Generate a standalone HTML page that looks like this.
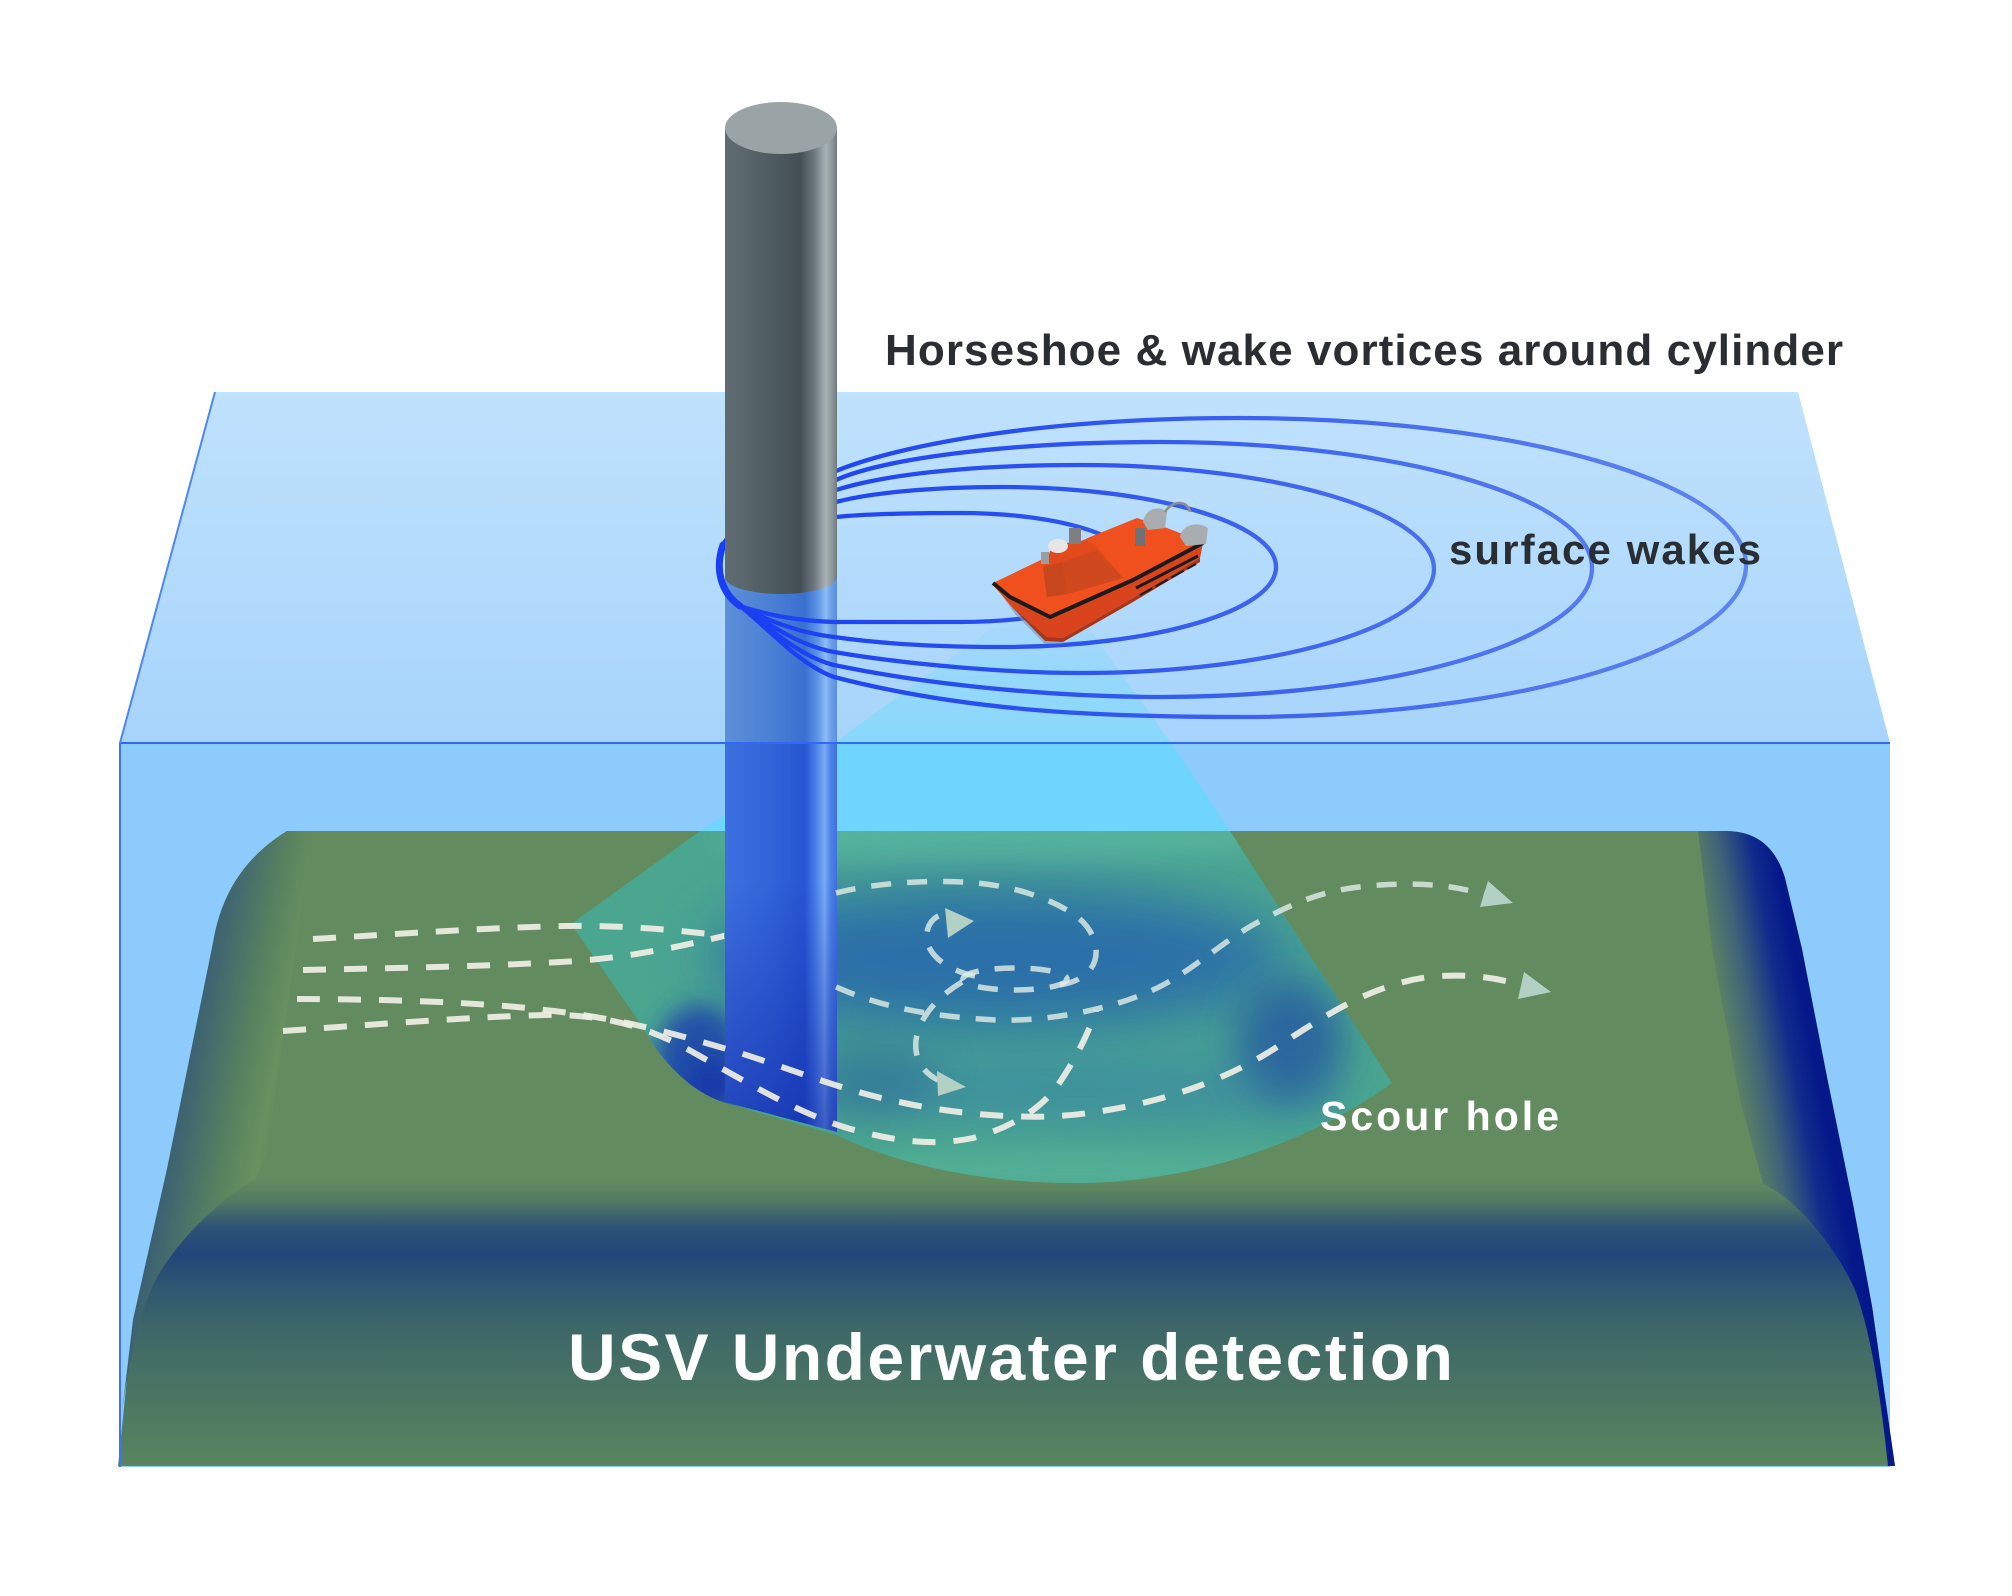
<!DOCTYPE html>
<html>
<head>
<meta charset="utf-8">
<style>
html,body{margin:0;padding:0;background:#ffffff;}
svg{display:block;}
text{font-family:"Liberation Sans",Arial,sans-serif;font-weight:bold;}
</style>
</head>
<body>
<svg width="2012" height="1596" viewBox="0 0 2012 1596" xmlns="http://www.w3.org/2000/svg">
<defs>
  <linearGradient id="gTop" gradientUnits="userSpaceOnUse" x1="0" y1="392" x2="0" y2="743">
    <stop offset="0" stop-color="#bfe2fd"/>
    <stop offset="1" stop-color="#a7d4fb"/>
  </linearGradient>
  <linearGradient id="gBeamTop" gradientUnits="userSpaceOnUse" x1="0" y1="600" x2="0" y2="743">
    <stop offset="0" stop-color="#8ad8fb" stop-opacity="0"/>
    <stop offset="0.5" stop-color="#8ad8fb" stop-opacity="0.6"/>
    <stop offset="1" stop-color="#88d8fb" stop-opacity="1"/>
  </linearGradient>
  <linearGradient id="gSea" gradientUnits="userSpaceOnUse" x1="0" y1="831" x2="0" y2="1466">
    <stop offset="0" stop-color="#628b5f"/>
    <stop offset="0.55" stop-color="#628b5f"/>
    <stop offset="0.58" stop-color="#547c63"/>
    <stop offset="0.625" stop-color="#2c5275"/>
    <stop offset="0.667" stop-color="#22467a"/>
    <stop offset="0.72" stop-color="#2d5870"/>
    <stop offset="0.786" stop-color="#3e6868"/>
    <stop offset="0.896" stop-color="#4b7662"/>
    <stop offset="1" stop-color="#5a855f"/>
  </linearGradient>
  <linearGradient id="gLeftSlope" gradientUnits="userSpaceOnUse" x1="200" y1="1000" x2="300" y2="1020">
    <stop offset="0" stop-color="#3c6173"/>
    <stop offset="0.55" stop-color="#58825f"/>
    <stop offset="0.85" stop-color="#67915f"/>
    <stop offset="1" stop-color="#628b5f"/>
  </linearGradient>
  <linearGradient id="gRightSlope" gradientUnits="userSpaceOnUse" x1="1712" y1="1000" x2="1800" y2="983">
    <stop offset="0" stop-color="#628b5f"/>
    <stop offset="0.4" stop-color="#3f6378"/>
    <stop offset="0.75" stop-color="#102c8c"/>
    <stop offset="1" stop-color="#05188a"/>
  </linearGradient>
  <linearGradient id="gColA" gradientUnits="userSpaceOnUse" x1="725" y1="0" x2="837" y2="0">
    <stop offset="0" stop-color="#5d90d8"/>
    <stop offset="0.4" stop-color="#4b80d5"/>
    <stop offset="0.71" stop-color="#3a70d0"/>
    <stop offset="0.83" stop-color="#5d95e6"/>
    <stop offset="0.9" stop-color="#8ebcf4"/>
    <stop offset="0.95" stop-color="#6a9ee6"/>
    <stop offset="1" stop-color="#5a8ee0"/>
  </linearGradient>
  <linearGradient id="gColB" gradientUnits="userSpaceOnUse" x1="725" y1="0" x2="837" y2="0">
    <stop offset="0" stop-color="#3d70df"/>
    <stop offset="0.4" stop-color="#3264da"/>
    <stop offset="0.71" stop-color="#2755d2"/>
    <stop offset="0.81" stop-color="#4a80ea"/>
    <stop offset="0.89" stop-color="#7aabf6"/>
    <stop offset="0.94" stop-color="#4f84e8"/>
    <stop offset="1" stop-color="#3e70e0"/>
  </linearGradient>
  <linearGradient id="gColShade" gradientUnits="userSpaceOnUse" x1="0" y1="880" x2="0" y2="1132">
    <stop offset="0" stop-color="#0a1ea0" stop-opacity="0"/>
    <stop offset="1" stop-color="#0a1e9a" stop-opacity="0.55"/>
  </linearGradient>
  <linearGradient id="gCyl" gradientUnits="userSpaceOnUse" x1="725" y1="0" x2="837" y2="0">
    <stop offset="0" stop-color="#5f6c72"/>
    <stop offset="0.18" stop-color="#59666c"/>
    <stop offset="0.5" stop-color="#4a575d"/>
    <stop offset="0.67" stop-color="#424e54"/>
    <stop offset="0.8" stop-color="#6d797e"/>
    <stop offset="0.9" stop-color="#a8b3b6"/>
    <stop offset="0.96" stop-color="#8b9599"/>
    <stop offset="1" stop-color="#6f7a7e"/>
  </linearGradient>
  <linearGradient id="gLoop" gradientUnits="userSpaceOnUse" x1="720" y1="0" x2="1750" y2="0">
    <stop offset="0" stop-color="#1a3ff2"/>
    <stop offset="0.3" stop-color="#2a50f0"/>
    <stop offset="1" stop-color="#4a70ea" stop-opacity="0.8"/>
  </linearGradient>
  <linearGradient id="gLoopFade" gradientUnits="userSpaceOnUse" x1="715" y1="0" x2="860" y2="0">
    <stop offset="0" stop-color="#1a3ff2" stop-opacity="1"/>
    <stop offset="0.5" stop-color="#1a3ff2" stop-opacity="0.7"/>
    <stop offset="1" stop-color="#1a3ff2" stop-opacity="0"/>
  </linearGradient>
  <filter id="b30" x="-60%" y="-60%" width="220%" height="220%"><feGaussianBlur stdDeviation="30"/></filter>
  <filter id="b20" x="-60%" y="-60%" width="220%" height="220%"><feGaussianBlur stdDeviation="20"/></filter>
  <filter id="b12" x="-60%" y="-60%" width="220%" height="220%"><feGaussianBlur stdDeviation="12"/></filter>
  <clipPath id="fanClip">
    <path d="M700,831 L1230,831 L1392,1083 C1300,1150 1180,1183 1077,1183 C980,1183 900,1165 836,1135 L726,1103 C690,1092 660,1060 640,1023 L571,924 Z"/>
  </clipPath>
</defs>

<rect x="0" y="0" width="2012" height="1596" fill="#ffffff"/>

<!-- water top surface -->
<path d="M215,392 L1798,392 L1890,743 L120,743 Z" fill="url(#gTop)"/>
<path d="M1056,582 L1171,743 L834,743 Z" fill="url(#gBeamTop)"/>

<!-- water front face -->
<rect x="120" y="743" width="1770" height="724" fill="#8dcbfc"/>
<path d="M834,743 L1171,743 L1230,831 L700,831 Z" fill="#6fd5fc"/>

<!-- seabed -->
<path d="M287,831 L1725,831 C1755,831 1775,845 1785,878 L1802,949 L1827,1077 L1853,1204 L1872,1306 L1895,1466 L118,1466 L133,1320 L167,1169 L213,943 C220,900 240,860 287,831 Z" fill="url(#gSea)"/>
<path d="M287,831 L312,831 L302,900 L268,1150 L257,1177 C217,1203 183,1234 157,1277 C140,1310 128,1360 120,1429 L133,1320 L167,1169 L213,943 C220,900 240,860 287,831 Z" fill="url(#gLeftSlope)"/>
<path d="M1698,831 L1725,831 C1755,831 1775,845 1785,878 L1802,949 L1827,1077 L1853,1204 L1872,1306 L1895,1466 L1888,1466 C1880,1390 1870,1330 1855,1290 C1840,1255 1800,1200 1763,1184 L1740,1100 L1712,949 Z" fill="url(#gRightSlope)"/>

<!-- scour fan -->
<g clip-path="url(#fanClip)">
  <rect x="560" y="820" width="850" height="380" fill="#4ba690"/>
  <ellipse cx="990" cy="838" rx="270" ry="28" fill="#57b49b" filter="url(#b12)"/>
  <ellipse cx="1000" cy="958" rx="290" ry="72" fill="#2a70a8" filter="url(#b30)"/>
  <ellipse cx="1090" cy="1090" rx="260" ry="35" fill="#3a8aa2" filter="url(#b20)" opacity="0.7"/>
  <ellipse cx="1290" cy="1040" rx="55" ry="62" fill="#2b689e" filter="url(#b20)"/>
  <ellipse cx="870" cy="1080" rx="70" ry="35" fill="#2f6d9a" filter="url(#b20)" opacity="0.6"/>
  <ellipse cx="700" cy="1060" rx="45" ry="55" fill="#2050a8" filter="url(#b12)"/>
  <ellipse cx="712" cy="1085" rx="25" ry="25" fill="#1838a8" filter="url(#b12)"/>
  <ellipse cx="1077" cy="1170" rx="300" ry="16" fill="#52b096" filter="url(#b12)"/>
</g>

<!-- underwater column -->
<path d="M725,577 H837 V743 H725 Z" fill="url(#gColA)"/>
<path d="M725,743 H837 V1132 L725,1102 Z" fill="url(#gColB)"/>
<path d="M725,880 H837 V1132 L725,1102 Z" fill="url(#gColShade)"/>

<!-- dashed flow lines -->
<g fill="none" stroke="#f0efe6" stroke-width="6" stroke-dasharray="23 18" stroke-opacity="0.92">
  <path d="M313,939 C400,934 480,928 565,926 C620,925 680,930 724,936"/>
  <path d="M303,970 C400,968 500,966 577,961 C640,956 690,944 724,936"/>
  <path d="M297,999 C380,999 480,1002 545,1010 C620,1018 680,1035 740,1053 C800,1072 840,1090 904,1103 C950,1113 1030,1122 1088,1113 C1150,1105 1220,1085 1280,1045 C1330,1012 1380,980 1440,976 C1480,974 1505,980 1528,987"/>
  <path d="M283,1031 C380,1024 470,1017 545,1015 C600,1014 640,1025 680,1045 C740,1078 790,1110 847,1128 C890,1140 930,1147 973,1138 C1010,1128 1040,1110 1058,1085 C1075,1060 1088,1035 1096,1010"/>
</g>
<g fill="none" stroke="#e2ede6" stroke-width="5.5" stroke-dasharray="20 16" stroke-opacity="0.8">
  <path d="M836,987 C860,997 900,1015 996,1020 C1050,1022 1120,1008 1163,985 C1200,965 1230,935 1266,918 C1300,900 1330,888 1380,885 C1430,882 1460,887 1490,896"/>
  <path d="M836,893 C870,884 920,880 962,882 C1010,884 1050,898 1075,915 C1098,932 1102,958 1088,972 C1078,982 1065,985 1050,986"/>
  <path d="M975,976 C955,972 935,962 928,945 C924,930 930,918 943,914"/>
  <ellipse cx="1015" cy="979" rx="52" ry="11"/>
  <path d="M962,982 C940,995 920,1015 916,1040 C914,1058 922,1072 938,1080"/>
</g>
<g fill="#b3d0c5">
  <path d="M1513,903 L1488,881 L1480,907 Z"/>
  <path d="M1551,992 L1524,972 L1518,999 Z"/>
  <path d="M974,921 L945,908 L948,938 Z"/>
  <path d="M966,1087 L937,1071 L938,1096 Z"/>
</g>

<!-- surface wake loops -->
<g fill="none" stroke="url(#gLoop)" stroke-width="4.3">
  <path d="M723,545 C715,568 720,592 740,606 C770,630 800,665 834,677 C969,712 1105,717 1240,717 C1520,717 1746,648 1746,565 C1746,484 1520,418 1240,418 C1040,418 900,445 836,471 C790,491 740,515 723,545 Z"/>
  <path d="M723,545 C715,568 720,592 740,606 C770,628 800,657 834,665 C934,686 1060,697 1160,697 C1399,697 1592,639 1592,568 C1592,498 1399,442 1160,442 C1000,442 880,460 836,480 C790,500 740,518 723,545 Z"/>
  <path d="M723,545 C715,568 720,592 740,606 C770,625 800,646 834,652 C910,665 1010,673 1081,673 C1276,673 1434,626 1434,569 C1434,512 1276,465 1081,465 C960,465 880,476 836,490 C790,502 735,520 723,545 Z"/>
  <path d="M723,545 C715,568 720,592 740,606 C770,622 800,633 834,637 C890,645 950,647 1002,647 C1153,647 1276,611 1276,567 C1276,523 1153,487 1002,487 C930,487 870,493 836,502 C790,512 735,525 723,545 Z"/>
  <path d="M723,545 C715,568 720,592 740,606 C770,616 800,621 834,622 C880,622 920,622 960,622 C1060,622 1135,597 1135,567 C1135,537 1060,513 960,513 C905,513 865,514 836,517 C790,522 735,530 723,545 Z"/>
</g>
<g fill="none" stroke="url(#gLoopFade)" stroke-width="3.5">
  <path d="M723,545 C715,568 720,592 740,606 C770,630 800,665 834,677 C860,684 880,690 900,694"/>
  <path d="M723,545 C715,568 720,592 740,606 C770,628 800,657 834,665 C860,671 880,675 900,678"/>
  <path d="M723,545 C715,568 720,592 740,606 C770,625 800,646 834,652 C860,657 880,660 900,662"/>
  <path d="M723,545 C715,568 720,592 740,606 C770,622 800,633 834,637 C860,640 880,642 900,643"/>
</g>
<path d="M723,545 C715,568 720,592 740,606" fill="none" stroke="#1a3ff2" stroke-width="7" stroke-linecap="round"/>

<!-- boat -->
<g>
  <path d="M1003,597 L1015,614 L1045,644 L1064,644 L1050,632 Z" fill="#7d8fb0" opacity="0.6"/>
  <path d="M993,585 L1012,607 L1047,637 L1063,638 L1133,598 L1200,558 L1203,543 L1133,580 L1050,617 L1010,598 Z" fill="#d9441c"/>
  <path d="M1012,607 L1047,637 L1063,638 L1133,598 L1200,558 L1200,562 L1133,602 L1063,642 L1045,641 Z" fill="#a8361a"/>
  <path d="M993,583 L1047,557 L1090,537 L1137,518 L1167,528 L1203,542 L1133,580 L1050,617 L1010,598 Z" fill="#f0501e"/>
  <path d="M993,583 L1010,597 L1050,617 L1133,580 L1203,543" stroke="#1b1b1b" stroke-width="4" fill="none" stroke-linejoin="round"/>
  <path d="M1136,588 L1198,556" stroke="#1b1b1b" stroke-width="3" fill="none"/>
  <path d="M1140,595 L1196,564" stroke="#1b1b1b" stroke-width="2" fill="none" stroke-dasharray="14 4"/>
  <path d="M1043,567 L1053,545 L1087,540 L1097,547 L1123,578 L1047,597 Z" fill="#e24a1c"/>
  <path d="M1047,597 L1043,567 L1062,562 L1068,594 Z" fill="#c8461c"/>
  <path d="M1068,594 L1062,562 L1097,550 L1123,578 Z" fill="#d0481d"/>
  <ellipse cx="1058" cy="546" rx="10" ry="7" fill="#e6e6e6"/>
  <rect x="1069" y="528" width="12" height="16" fill="#7d7f82"/>
  <rect x="1041" y="552" width="8" height="12" fill="#9a9c9e"/>
  <rect x="1135" y="528" width="10" height="18" fill="#6f7173"/>
  <path d="M1143,522 C1145,508 1160,505 1167,512 L1165,528 L1148,530 Z" fill="#a9adb0"/>
  <path d="M1180,537 C1182,524 1198,521 1208,528 L1206,544 L1186,546 Z" fill="#a9adb0"/>
  <path d="M1165,512 C1172,500 1188,500 1190,512" stroke="#8d9194" stroke-width="2.5" fill="none"/>
</g>

<!-- gray cylinder above water -->
<path d="M725,128 V577 A56,17 0 0 0 837,577 V128 Z" fill="url(#gCyl)"/>
<ellipse cx="781" cy="128" rx="56" ry="26" fill="#9aa4a7"/>

<!-- box edges -->
<line x1="120" y1="743" x2="1890" y2="743" stroke="#2f6af5" stroke-width="2"/>
<line x1="120" y1="743" x2="120" y2="1467" stroke="#3b74f5" stroke-width="2"/>
<line x1="215" y1="392" x2="120" y2="743" stroke="#4d86f5" stroke-width="2"/>

<!-- labels -->
<text x="885" y="365" font-size="44" fill="#2a2e33" textLength="958" lengthAdjust="spacing">Horseshoe &amp; wake vortices around cylinder</text>
<text x="1449" y="564" font-size="42" fill="#2a2e33" textLength="312" lengthAdjust="spacing">surface wakes</text>
<text x="1320" y="1130" font-size="41" fill="#ffffff" textLength="239" lengthAdjust="spacing">Scour hole</text>
<text x="568" y="1380" font-size="66" fill="#ffffff" textLength="885" lengthAdjust="spacing">USV Underwater detection</text>
</svg>
</body>
</html>
